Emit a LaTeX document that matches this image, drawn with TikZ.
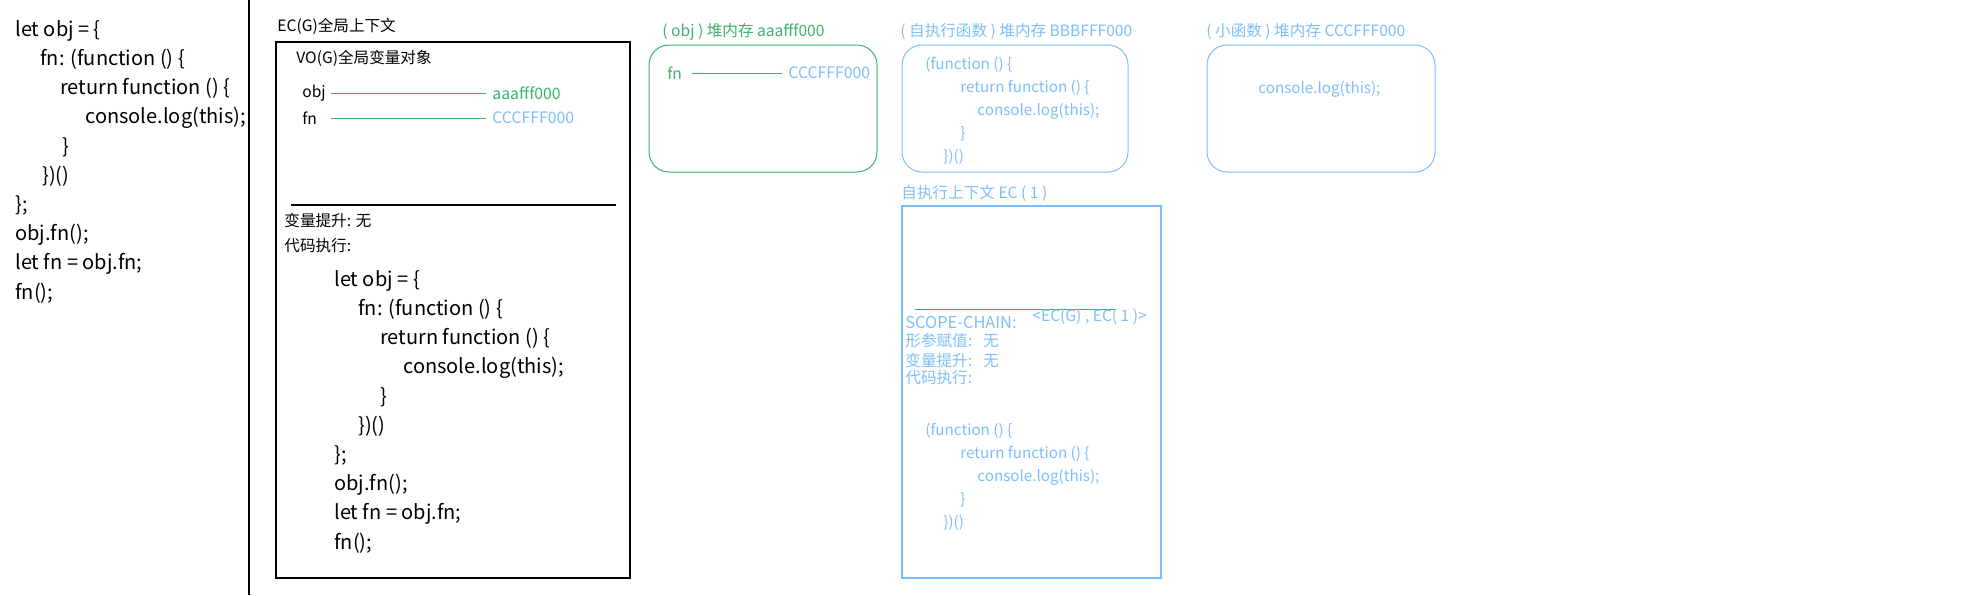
\documentclass[tikz,border=0pt]{standalone}
\usepackage{fontspec}
\setmainfont{Noto Sans CJK SC}
\definecolor{heapgreen}{RGB}{60,177,110}
\definecolor{heapblue}{RGB}{125,190,250}
\newcommand{\codeind}[1]{\hspace*{#1pt}}
\tikzset{
  bigcode/.style={anchor=north west, inner sep=0pt, align=left,
    font=\fontsize{10}{14.6}\selectfont},
  smallcode/.style={anchor=north west, inner sep=0pt, align=left, text=heapblue,
    font=\fontsize{7.6}{11.5}\selectfont},
  tag/.style={anchor=west, inner sep=0pt, font=\fontsize{7.8}{9}\selectfont},
  addr/.style={anchor=west, inner xsep=3pt, inner ysep=0pt, font=\fontsize{7.9}{9}\selectfont},
  frame/.style={line width=0.6pt},
  heap/.style={line width=0.5pt, rounded corners=10pt}
}
\begin{document}
\begin{tikzpicture}[x=0.5pt,y=-0.5pt]
  \useasboundingbox (0,0) rectangle (1984,595);
  % source code
  \node[bigcode] (src) at (15,20) {let obj = \{\\
    \codeind{12.5}fn: (function () \{\\
    \codeind{22.5}return function () \{\\
    \codeind{35}console.log(this);\\
    \codeind{23.5}\}\\
    \codeind{13.5}\})()\\
    \};\\
    obj.fn();\\
    let fn = obj.fn;\\
    fn();};
  \draw[line width=0.75pt] (249,0) -- (249,595);

  % global context
  \node[tag] (ecg) at (277,26) {EC(G)全局上下文};
  \draw[frame] (276,42) rectangle (630,578);
  \node[tag] (vog) at (296,58) {VO(G)全局变量对象};
  \node[tag] (objname) at (302,93) {obj};
  \node[tag] (fnname) at (302,118) {fn};
  \node[addr, text=heapgreen] (objaddr) at (486,93) {aaafff000};
  \node[addr, text=heapblue] (fnaddr) at (486,118) {CCCFFF000};
  \coordinate (varcol) at (331,0);
  \draw[heapgreen] (varcol |- objaddr.west) -- (objaddr.west);
  \draw[heapgreen] (varcol |- fnaddr.west) -- (fnaddr.west);
  \draw[frame] (291,205) -- (616,205);
  \node[tag] (hoistg) at (284,221) {变量提升: 无};
  \node[tag] (rung) at (284,246) {代码执行:};
  \node[bigcode] (runcode) at (334,270) {let obj = \{\\
    \codeind{12}fn: (function () \{\\
    \codeind{23}return function () \{\\
    \codeind{34.5}console.log(this);\\
    \codeind{23}\}\\
    \codeind{12}\})()\\
    \};\\
    obj.fn();\\
    let fn = obj.fn;\\
    fn();};

  % heap: obj
  \node[tag, text=heapgreen] (objheap) at (662,32) {( obj ) 堆内存 aaafff000};
  \draw[heap, heapgreen] (649,45) rectangle (877,172);
  \node[tag, text=heapgreen] (objfn) at (667,73) {fn};
  \node[addr, text=heapblue] (objfnaddr) at (782,73) {CCCFFF000};
  \draw[heapgreen] (objfn.east) ++(10,0) coordinate (objfnl) -- (objfnaddr.west);

  % heap: self-invoking function
  \node[tag, text=heapblue] (iifeheap) at (900,31) {( 自执行函数 ) 堆内存 BBBFFF000};
  \draw[heap, heapblue] (902,45) rectangle (1128,172);
  \node[smallcode] (iifecode) at (925,57) {(function () \{\\
    \codeind{17.5}return function () \{\\
    \codeind{26}console.log(this);\\
    \codeind{17.5}\}\\
    \codeind{9}\})()};

  % heap: inner function
  \node[tag, text=heapblue] (innerheap) at (1206,31) {( 小函数 ) 堆内存 CCCFFF000};
  \draw[heap, heapblue] (1207,45) rectangle (1435,172);
  \node[smallcode] (innercode) at (1258,81) {console.log(this);};

  % EC(1)
  \node[tag, text=heapblue] (ec1) at (901,193) {自执行上下文 EC ( 1 )};
  \draw[frame, heapblue] (902,206) rectangle (1161,578);
  \coordinate (chainl) at (915,309);
  \coordinate (chainr) at (1115,309);
  \draw[heapgreen] (chainl) -- (chainr);
  \node[tag, text=heapblue, font=\fontsize{8.2}{9}\selectfont] (scope) at (905,322) {SCOPE-CHAIN:};
  \node[tag, text=heapblue] (chain) at (1032,317) {<EC(G) , EC( 1 )>};
  \node[tag, text=heapblue] (argsl) at (905,341) {形参赋值:};
  \node[tag, text=heapblue] (argsv) at (983,341) {无};
  \node[tag, text=heapblue] (hoistl) at (905,361) {变量提升:};
  \node[tag, text=heapblue] (hoistv) at (983,361) {无};
  \node[tag, text=heapblue] (runl) at (905,378) {代码执行:};
  \node[smallcode] (ec1code) at (925,423) {(function () \{\\
    \codeind{17.5}return function () \{\\
    \codeind{26}console.log(this);\\
    \codeind{17.5}\}\\
    \codeind{9}\})()};
\end{tikzpicture}
\end{document}
